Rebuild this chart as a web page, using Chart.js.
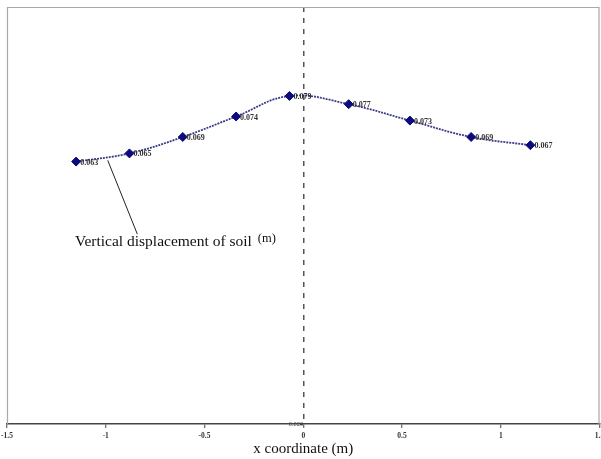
<!DOCTYPE html>
<html><head><meta charset="utf-8">
<script src="https://cdn.jsdelivr.net/npm/chart.js@4/dist/chart.umd.min.js"></script>
<style>html,body{margin:0;padding:0;background:#fff;overflow:hidden}#wrap{width:601px;height:459px;overflow:hidden}</style>
</head><body><div id="wrap"><canvas id="c" width="605" height="459" style="width:605px;height:459px"></canvas></div>
<script>
// ---- data ----
const xCoords = [-1.15, -0.88, -0.61, -0.34, -0.07, 0.23, 0.54, 0.85, 1.15];
const displacement = [0.063, 0.065, 0.069, 0.074, 0.079, 0.077, 0.073, 0.069, 0.067];
const xTickValues = [-1.5, -1, -0.5, 0, 0.5, 1, 1.5];
const xTickLabels = ['-1.5', '-1', '-0.5', '0', '0.5', '1', '1.5'];
const yTickLabels = ['0.020'];
const xTitle = 'x coordinate (m)';
const annotationText = 'Vertical displacement of soil';
const annotationUnit = '(m)';
// annotation anchors in data units
const annotationLineFrom = {x: -0.99, y: 0.0633};
const annotationLineTo = {x: -0.84, y: 0.0453};
const annotationTextAt = {x: -1.156, y: 0.0425};

const SERIF = '"Liberation Serif", "DejaVu Serif", serif';

const framePlugin = {
  id: 'frame',
  beforeDatasetsDraw(chart) {
    const {ctx, chartArea: a} = chart;
    ctx.save();
    ctx.strokeStyle = '#a8a8a8';
    ctx.lineWidth = 1.2;
    ctx.beginPath();
    ctx.moveTo(a.left + 0.5, a.bottom);
    ctx.lineTo(a.left + 0.5, a.top + 0.5);
    ctx.lineTo(a.right - 0.5, a.top + 0.5);
    ctx.lineTo(a.right - 0.5, a.bottom);
    ctx.stroke();
    ctx.restore();
  }
};

// x tick labels drawn at the x scale's own tick pixels (kept out of the layout padding so the
// outer labels may overhang the edges, as in the reference)
const xTickLabelPlugin = {
  id: 'xTickLabels',
  afterDraw(chart) {
    const {ctx, scales: {x}, chartArea: a} = chart;
    ctx.save();
    ctx.font = 'bold 7.5px ' + SERIF;
    ctx.fillStyle = '#333';
    ctx.textAlign = 'center';
    ctx.textBaseline = 'top';
    xTickValues.forEach((v, i) => {
      ctx.fillText(xTickLabels[i], x.getPixelForValue(v), a.bottom + 8);
    });
    ctx.restore();
  }
};

const labelPlugin = {
  id: 'pointLabels',
  afterDatasetsDraw(chart) {
    const {ctx} = chart;
    const meta = chart.getDatasetMeta(0);
    ctx.save();
    ctx.font = 'bold 8px ' + SERIF;
    ctx.fillStyle = '#333';
    ctx.textBaseline = 'middle';
    ctx.textAlign = 'left';
    meta.data.forEach((pt, i) => {
      ctx.fillText(displacement[i].toFixed(3), pt.x + 4, pt.y + 1);
    });
    ctx.restore();
  }
};

const annotationPlugin = {
  id: 'annotation',
  afterDraw(chart) {
    const {ctx, scales: {x, y}} = chart;
    ctx.save();
    ctx.strokeStyle = '#222';
    ctx.lineWidth = 1;
    ctx.beginPath();
    ctx.moveTo(x.getPixelForValue(annotationLineFrom.x), y.getPixelForValue(annotationLineFrom.y));
    ctx.lineTo(x.getPixelForValue(annotationLineTo.x), y.getPixelForValue(annotationLineTo.y));
    ctx.stroke();
    const tx = x.getPixelForValue(annotationTextAt.x);
    const ty = y.getPixelForValue(annotationTextAt.y);
    ctx.fillStyle = '#111';
    ctx.textBaseline = 'alphabetic';
    ctx.textAlign = 'left';
    ctx.font = '15.5px ' + SERIF;
    ctx.fillText(annotationText, tx, ty);
    const w = ctx.measureText(annotationText).width;
    ctx.font = '12.5px ' + SERIF;
    ctx.fillText(annotationUnit, tx + w + 6, ty - 4);
    ctx.restore();
  }
};

new Chart(document.getElementById('c'), {
  type: 'scatter',
  data: {
    datasets: [{
      data: xCoords.map((v, i) => ({x: v, y: displacement[i]})),
      showLine: true,
      tension: 0.4,
      borderColor: 'rgba(25,25,115,0.85)',
      borderWidth: 1.8,
      borderDash: [2, 1],
      pointStyle: 'rectRot',
      pointRadius: 4.5,
      pointBackgroundColor: '#0b0b7d',
      pointBorderColor: '#0b0b7d',
      pointBorderWidth: 1
    }]
  },
  options: {
    responsive: false,
    devicePixelRatio: 1,
    animation: false,
    layout: {padding: {left: 7, right: 2, top: 7, bottom: 0}},
    plugins: {legend: {display: false}, tooltip: {enabled: false}},
    scales: {
      x: {
        type: 'linear', min: -1.5, max: 1.5,
        afterBuildTicks: s => { s.ticks = xTickValues.map(v => ({value: v})); },
        ticks: {display: false},
        grid: {
          drawOnChartArea: true, drawTicks: true, tickLength: 4,
          color: c => (c.tick && c.tick.value === 0 ? '#555' : 'rgba(0,0,0,0)'),
          lineWidth: 1.5,
          tickColor: '#444', tickWidth: 1
        },
        border: {color: '#444', width: 1.5, dash: [5, 6]},
        title: {display: true, text: xTitle, font: {family: SERIF, size: 15}, color: '#111', padding: {top: 12, bottom: 1}}
      },
      y: {
        type: 'linear', min: -0.001, max: 0.1007,
        position: {x: 0},
        afterBuildTicks: s => { s.ticks = [{value: s.min}]; },
        ticks: {
          callback: (v, i) => yTickLabels[i],
          font: {family: SERIF, size: 6.5},
          color: '#444', padding: 2
        },
        grid: {drawOnChartArea: false, drawTicks: true, tickLength: 3, color: '#555'},
        border: {display: false}
      }
    }
  },
  plugins: [framePlugin, xTickLabelPlugin, labelPlugin, annotationPlugin]
});
</script>
</body></html>
